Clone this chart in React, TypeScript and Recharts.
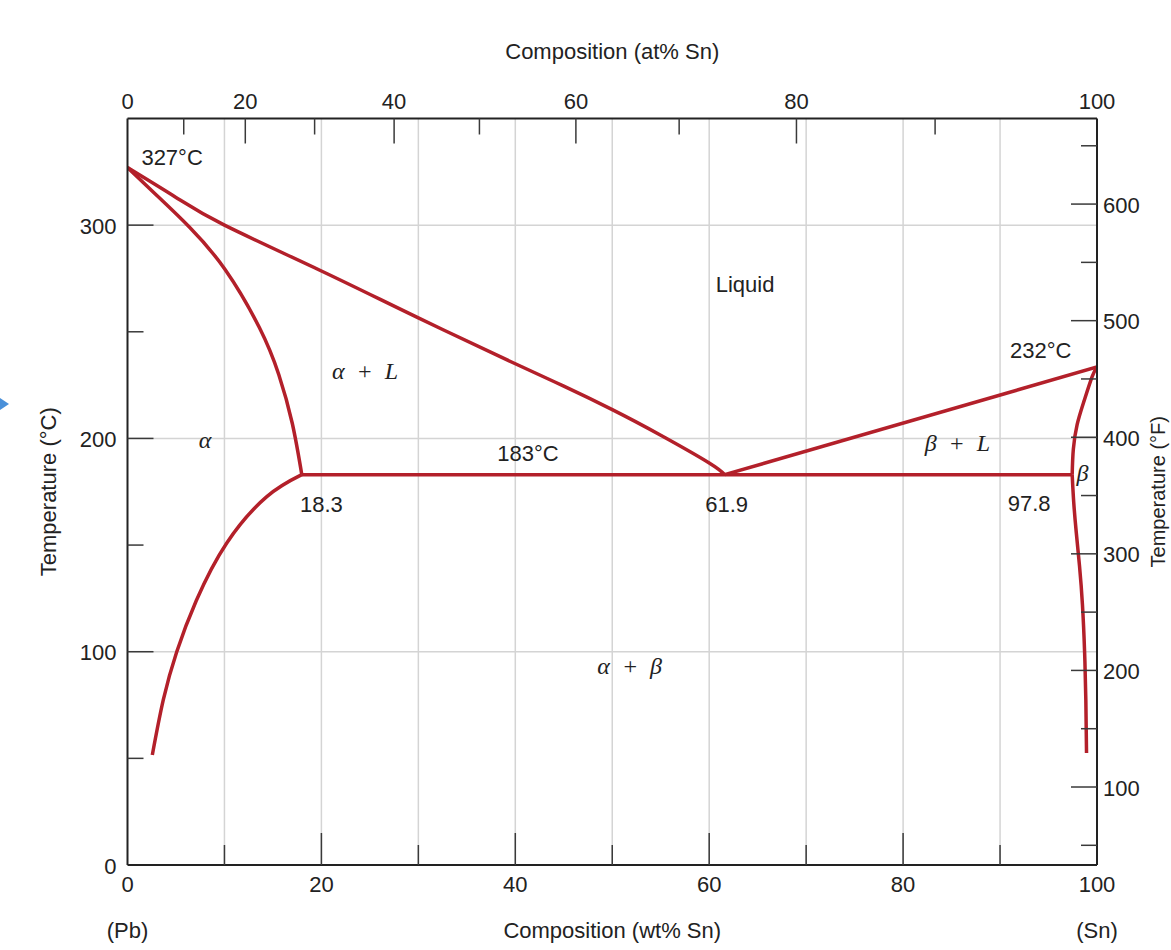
import React from "react";
import {
  ComposedChart,
  Line,
  XAxis,
  YAxis,
  ReferenceLine,
  ReferenceDot,
} from "recharts";

// Pb–Sn phase diagram, composition in wt% Sn (w), temperature in °C (t)
const liquidusLeft = [
  { w: 0, t: 327 },
  { w: 5, t: 313 },
  { w: 10, t: 300 },
  { w: 20, t: 278.5 },
  { w: 30, t: 256.5 },
  { w: 40, t: 235 },
  { w: 45, t: 224.5 },
  { w: 50, t: 213.5 },
  { w: 55, t: 201.5 },
  { w: 60, t: 188.5 },
  { w: 61.6, t: 183 },
];
const liquidusRight = [
  { w: 61.6, t: 183 },
  { w: 100, t: 233.5 },
];
const solidusLeft = [
  { w: 0, t: 327 },
  { w: 3, t: 314 },
  { w: 6.4, t: 299 },
  { w: 10.1, t: 279 },
  { w: 13.6, t: 252 },
  { w: 15.6, t: 230 },
  { w: 17, t: 207 },
  { w: 17.98, t: 183 },
];
const solvusLeft = [
  { w: 2.56, t: 51.6 },
  { w: 3.69, t: 77.4 },
  { w: 5.08, t: 100 },
  { w: 7.1, t: 124 },
  { w: 10.24, t: 151 },
  { w: 14.37, t: 172.7 },
  { w: 17.98, t: 183 },
];
const solidusRight = [
  { w: 97.44, t: 183 },
  { w: 97.56, t: 195 },
  { w: 97.95, t: 206.5 },
  { w: 98.66, t: 217.5 },
  { w: 99.5, t: 229 },
  { w: 100, t: 233.5 },
];
const solvusRight = [
  { w: 97.44, t: 183 },
  { w: 97.6, t: 170 },
  { w: 97.86, t: 156 },
  { w: 98.2, t: 140 },
  { w: 98.5, t: 122 },
  { w: 98.72, t: 100 },
  { w: 98.85, t: 77 },
  { w: 98.92, t: 52.5 },
];
const eutectic = [
  { w: 17.98, t: 183 },
  { w: 97.44, t: 183 },
];

// axes
const wtTicks = [0, 10, 20, 30, 40, 50, 60, 70, 80, 90, 100];
const atLabels = [0, 10, 20, 30, 40, 50, 60, 70, 80, 90, 100];
// where each at% tick sits on the wt% scale
const atPositions = [0, 5.8, 12.15, 19.3, 27.5, 36.3, 46.25, 56.9, 69.0, 83.3, 100];
const cTicks = [0, 50, 100, 150, 200, 250, 300];
const fTicks = [50, 100, 150, 200, 250, 300, 350, 400, 450, 500, 550, 600, 650];
const gridWt = [10, 20, 30, 40, 50, 60, 70, 80, 90];
const gridC = [100, 200, 300];

const annotations = [
  { w: 4.6, t: 331.5, text: "327°C" },
  { w: 63.7, t: 272.4, text: "Liquid" },
  { w: 24.5, t: 231.6, text: "α\u2002+\u2002L", greek: true },
  { w: 8.0, t: 199.3, text: "α", greek: true },
  { w: 41.3, t: 192.7, text: "183°C" },
  { w: 85.6, t: 197.8, text: "β\u2002+\u2002L", greek: true },
  { w: 98.5, t: 184, text: "β", greek: true },
  { w: 94.2, t: 241.4, text: "232°C" },
  { w: 20.0, t: 169.2, text: "18.3" },
  { w: 61.8, t: 169.2, text: "61.9" },
  { w: 93.0, t: 169.7, text: "97.8" },
  { w: 51.8, t: 93.3, text: "α\u2002+\u2002β", greek: true },
];

const RED = "#b3202a";
const INK = "#222";
const TICK = "#3a3a3a";
const GRID = "#d4d4d4";
const SANS = "'Liberation Sans', Arial, sans-serif";
const SERIF = "'Liberation Serif', 'Times New Roman', serif";

const txt = { fontFamily: SANS, fontSize: 22, fill: INK };

function BottomTick(props: any) {
  const { x, y, payload } = props;
  const v = payload.value;
  const major = v % 20 === 0;
  return (
    <g>
      {v > 0 && v < 100 && (
        <line x1={x} x2={x} y1={y} y2={y - (major ? 32 : 20)} stroke={TICK} strokeWidth={1.5} />
      )}
      {major && (
        <text x={x} y={y + 19} textAnchor="middle" dominantBaseline="central" {...txt}>
          {v}
        </text>
      )}
      {v === 0 && (
        <text x={x} y={y + 65} textAnchor="middle" dominantBaseline="central" {...txt}>
          (Pb)
        </text>
      )}
      {v === 100 && (
        <text x={x} y={y + 65} textAnchor="middle" dominantBaseline="central" {...txt}>
          (Sn)
        </text>
      )}
    </g>
  );
}

function TopTick(props: any) {
  const { x, y, payload } = props;
  let idx = 0;
  atPositions.forEach((p, i) => {
    if (Math.abs(p - payload.value) < Math.abs(atPositions[idx] - payload.value)) idx = i;
  });
  const label = atLabels[idx];
  const major = label % 20 === 0;
  return (
    <g>
      {label > 0 && label < 100 && (
        <line x1={x} x2={x} y1={y} y2={y + (major ? 25 : 16)} stroke={TICK} strokeWidth={1.5} />
      )}
      {major && (
        <text x={x} y={y - 17} textAnchor="middle" dominantBaseline="central" {...txt}>
          {label}
        </text>
      )}
    </g>
  );
}

function LeftTick(props: any) {
  const { x, y, payload } = props;
  const v = payload.value;
  const major = v % 100 === 0;
  return (
    <g>
      {v > 0 && (
        <line x1={x} x2={x + (major ? 26 : 16)} y1={y} y2={y} stroke={TICK} strokeWidth={1.5} />
      )}
      {major && (
        <text x={x - 11} y={y + 1} textAnchor="end" dominantBaseline="central" {...txt}>
          {v}
        </text>
      )}
    </g>
  );
}

function RightTick(props: any) {
  const { x, y, payload } = props;
  const v = payload.value;
  const major = v % 100 === 0;
  return (
    <g>
      <line x1={x} x2={x - (major ? 26 : 16)} y1={y} y2={y} stroke={TICK} strokeWidth={1.5} />
      {major && (
        <text x={x + 6} y={y + 1} textAnchor="start" dominantBaseline="central" {...txt}>
          {v}
        </text>
      )}
    </g>
  );
}

function annoLabel(a: any) {
  return (p: any) => {
    const vb = p.viewBox || {};
    const cx = vb.x + (vb.width || 0) / 2;
    const cy = vb.y + (vb.height || 0) / 2;
    return (
      <text
        x={cx}
        y={cy}
        textAnchor="middle"
        dominantBaseline="central"
        fontFamily={a.greek ? SERIF : SANS}
        fontStyle={a.greek ? "italic" : "normal"}
        fontSize={a.greek ? 24 : 22}
        fill={INK}
      >
        {a.text}
      </text>
    );
  };
}

const curves = [liquidusLeft, liquidusRight, solidusLeft, solvusLeft, solidusRight, solvusRight, eutectic];

export default function App() {
  return (
    <div style={{ position: "absolute", left: 0, top: 0, width: 1171, height: 950 }}>
      <svg width={10} height={14} style={{ position: "absolute", left: 0, top: 398 }}>
        <polygon points="0,0 9,6 0,12" fill="#4a90d9" />
      </svg>
      <ComposedChart width={1171} height={950} margin={{ top: 0, right: 0, bottom: 0, left: 0 }}>
        <XAxis
          xAxisId="b"
          type="number"
          dataKey="w"
          domain={[0, 100]}
          ticks={wtTicks}
          interval={0}
          orientation="bottom"
          height={85}
          tickSize={0}
          tickMargin={0}
          tickLine={false}
          allowDataOverflow
          axisLine={{ stroke: INK, strokeWidth: 2 }}
          tick={(p: any) => <BottomTick {...p} />}
          label={{
            content: (p: any) => {
              const vb = p.viewBox;
              return (
                <text x={vb.x + vb.width / 2} y={vb.y + 65} textAnchor="middle" dominantBaseline="central" {...txt}>
                  Composition (wt% Sn)
                </text>
              );
            },
          }}
        />
        <XAxis
          xAxisId="t"
          type="number"
          dataKey="w"
          domain={[0, 100]}
          ticks={atPositions}
          interval={0}
          orientation="top"
          height={118.5}
          tickSize={0}
          tickMargin={0}
          tickLine={false}
          allowDataOverflow
          axisLine={{ stroke: INK, strokeWidth: 2 }}
          tick={(p: any) => <TopTick {...p} />}
          label={{
            content: (p: any) => {
              const vb = p.viewBox;
              return (
                <text x={vb.x + vb.width / 2} y={vb.y + 51.5} textAnchor="middle" dominantBaseline="central" {...txt}>
                  Composition (at% Sn)
                </text>
              );
            },
          }}
        />
        <YAxis
          yAxisId="c"
          type="number"
          domain={[0, 350]}
          ticks={cTicks}
          interval={0}
          orientation="left"
          width={127.5}
          tickSize={0}
          tickMargin={0}
          tickLine={false}
          allowDataOverflow
          axisLine={{ stroke: INK, strokeWidth: 2 }}
          tick={(p: any) => <LeftTick {...p} />}
          label={{
            content: (p: any) => {
              const vb = p.viewBox;
              const cx = 48;
              const cy = vb.y + vb.height / 2;
              return (
                <text x={cx} y={cy} transform={`rotate(-90 ${cx} ${cy})`} textAnchor="middle" dominantBaseline="central" {...txt}>
                  Temperature (°C)
                </text>
              );
            },
          }}
        />
        <YAxis
          yAxisId="f"
          type="number"
          domain={[33.1, 673.4]}
          ticks={fTicks}
          interval={0}
          orientation="right"
          width={74}
          tickSize={0}
          tickMargin={0}
          tickLine={false}
          allowDataOverflow
          axisLine={{ stroke: INK, strokeWidth: 2 }}
          tick={(p: any) => <RightTick {...p} />}
          label={{
            content: (p: any) => {
              const vb = p.viewBox;
              const cx = 1158;
              const cy = vb.y + vb.height / 2;
              return (
                <text
                  x={cx}
                  y={cy}
                  transform={`rotate(-90 ${cx} ${cy})`}
                  textAnchor="middle"
                  dominantBaseline="central"
                  fontFamily={SANS}
                  fontSize={20}
                  fill={INK}
                >
                  Temperature (°F)
                </text>
              );
            },
          }}
        />

        {gridWt.map((w) => (
          <ReferenceLine key={`gx${w}`} x={w} xAxisId="b" yAxisId="c" stroke={GRID} strokeWidth={1.5} />
        ))}
        {gridC.map((t) => (
          <ReferenceLine key={`gy${t}`} y={t} xAxisId="b" yAxisId="c" stroke={GRID} strokeWidth={1.5} />
        ))}

        {curves.map((d, i) => (
          <Line
            key={`c${i}`}
            data={d}
            xAxisId="b"
            yAxisId="c"
            dataKey="t"
            type={d.length > 2 ? "natural" : "linear"}
            stroke={RED}
            strokeWidth={3.5}
            dot={false}
            activeDot={false}
            isAnimationActive={false}
          />
        ))}

        {/* keeps the at% axis tied to a series so its ticks are laid out */}
        <Line
          data={eutectic}
          xAxisId="t"
          yAxisId="c"
          dataKey="t"
          stroke="none"
          dot={false}
          activeDot={false}
          legendType="none"
          isAnimationActive={false}
        />

        {annotations.map((a, i) => (
          <ReferenceDot
            key={`a${i}`}
            x={a.w}
            y={a.t}
            xAxisId="b"
            yAxisId="c"
            r={0}
            fill="none"
            stroke="none"
            label={annoLabel(a)}
          />
        ))}
      </ComposedChart>
    </div>
  );
}
